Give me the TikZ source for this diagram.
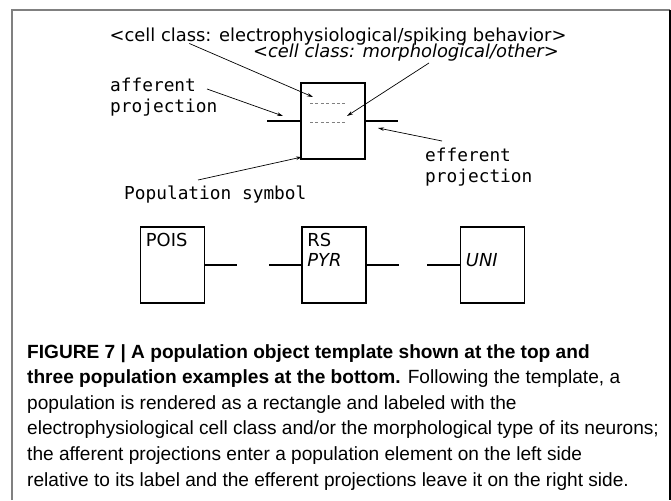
\documentclass[tikz,border=0pt]{standalone}
\usepackage{fontspec}
\setmainfont{Liberation Sans}
\newfontfamily\clsfont{DejaVu Sans}
\newfontfamily\codefont{DejaVu Sans Mono}
\usetikzlibrary{arrows.meta,positioning}
\usepackage{xcolor}

\begin{document}
\begin{tikzpicture}[>={Stealth[length=6pt,width=3.5pt]}, x=1pt, y=-1pt,
	popbox/.style={draw, line width=1.6pt, minimum width=64pt, minimum height=76pt, inner sep=0pt},
	stub/.style={line width=2.4pt},
	note/.style={->, line width=0.7pt},
	cls/.style={font=\clsfont\fontsize{17.9}{21}\selectfont, inner sep=0pt},
	code/.style={font=\codefont\fontsize{17.8}{21}\selectfont, inner sep=0pt, align=left},
	sublabel/.style={draw=gray, line width=0.7pt, dash pattern=on 3pt off 2.4pt}]
	\useasboundingbox (0,0) rectangle (671,500);
	\draw[gray, line width=1.5pt] (12,500) -- (12,10) -- (670,10);
	\draw[line width=2.3pt] (670,10) -- (670,500);

	% template
	\node[popbox] (pop) at (333,121) {};
	\draw[sublabel] (310,103) -- (346,103);
	\draw[sublabel] (310,122) -- (346,122);
	\draw[stub] (pop.west) -- ++(-33,0);
	\draw[stub] (pop.east) -- ++(32,0);

	\node[cls, anchor=base] (elec) at (338,41.5) {<cell class: electrophysiological/spiking behavior>};
	\node[cls, anchor=base east] (morph) at (559,58) {\itshape <cell class: morphological/other>};
	\node[code, anchor=base west] (afftxt) at (110,113) {afferent\\projection};
	\node[code, anchor=base west] (efftxt) at (425,182) {efferent\\projection};
	\node[code, anchor=base west] (poptxt) at (124,199) {Population symbol};

	\coordinate (elecpt) at (313,97);
	\coordinate (morphpt) at (347,116);
	\coordinate (affpt) at (283,116);
	\coordinate (effpt) at (378,128);
	\coordinate (poppt) at (302,157);
	\draw[note] ([xshift=80pt,yshift=-2pt]elec.base west) -- (elecpt);
	\draw[note] ([xshift=-130pt,yshift=-5pt]morph.base east) -- (morphpt);
	\draw[note] ([xshift=97pt,yshift=24pt]afftxt.base west) -- (affpt);
	\draw[note] ([xshift=17pt,yshift=41pt]efftxt.base west) -- (effpt);
	\draw[note] ([xshift=74pt,yshift=19pt]poptxt.base west) -- (poppt);

	% examples
	\foreach \n/\x/\a/\b in {pois/172.5/POIS/, rs/334/RS/PYR, uni/492.5//UNI} {
		\node[popbox] (\n) at (\x,265) {};
		\node[cls, anchor=base west] at ([shift={(6pt,-20pt)}]\n.north west) {\a};
		\node[cls, anchor=base west] at ([shift={(6pt,-40pt)}]\n.north west) {\itshape\b};
	}
	\draw[stub] (pois.east) -- ++(32,0);
	\draw[stub] (rs.west) -- ++(-32,0);
	\draw[stub] (rs.east) -- ++(32,0);
	\draw[stub] (uni.west) -- ++(-33,0);

	\node[anchor=base west, align=left, inner sep=0pt, font=\fontsize{19.1}{25.6}\selectfont] (caption) at (27,486)
		{\textbf{FIGURE 7 | A population object template shown at the top and}\\
		\textbf{three population examples at the bottom.} Following the template, a\\
		population is rendered as a rectangle and labeled with the\\
		electrophysiological cell class and/or the morphological type of its neurons;\\
		the afferent projections enter a population element on the left side\\
		relative to its label and the efferent projections leave it on the right side.};
\end{tikzpicture}
\end{document}
